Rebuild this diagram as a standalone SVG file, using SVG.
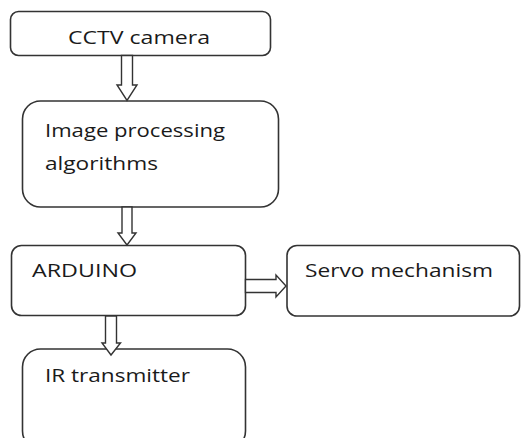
<svg xmlns="http://www.w3.org/2000/svg" width="521" height="438" viewBox="0 0 521 438">
<style>
.box{fill:#fff;stroke:#333;stroke-width:1.6}
.t{font-family:"Open Sans","Noto Sans",sans-serif;font-size:19px;fill:#1a1a1a}
.arr{fill:#fff;stroke:#333;stroke-width:1.4;stroke-linejoin:miter}
</style>
<rect width="521" height="438" fill="#fff"/>
<g id="cctv">
<rect class="box" x="10.5" y="11.5" width="260" height="44" rx="8"/>
<text class="t" x="68" y="44" textLength="142" lengthAdjust="spacingAndGlyphs">CCTV camera</text>
</g>
<g id="image">
<rect class="box" x="22.5" y="101" width="256" height="106" rx="18"/>
<text class="t" x="45" y="137" textLength="180" lengthAdjust="spacingAndGlyphs">Image processing</text>
<text class="t" x="45" y="170" textLength="113" lengthAdjust="spacingAndGlyphs">algorithms</text>
</g>
<g id="arduino">
<rect class="box" x="11.5" y="245.5" width="234" height="70" rx="10"/>
<text class="t" x="32" y="277" textLength="105" lengthAdjust="spacingAndGlyphs">ARDUINO</text>
</g>
<g id="servo">
<rect class="box" x="287" y="245.5" width="232.5" height="70.5" rx="10"/>
<text class="t" x="305" y="277" textLength="188" lengthAdjust="spacingAndGlyphs">Servo mechanism</text>
</g>
<g id="ir">
<rect class="box" x="22.5" y="349" width="223" height="100" rx="18"/>
<text class="t" x="45" y="382" textLength="145" lengthAdjust="spacingAndGlyphs">IR transmitter</text>
</g>
<g id="connectors">
<path class="arr" d="M121.5 55.5 V85 H117 L127 100.5 L137 85 H132.5 V55.5 Z"/>
<path class="arr" d="M122 207 V233 H118 L127 245 L136 233 H132 V207 Z"/>
<path class="arr" d="M245.5 279.5 H276 V275 L286 286 L276 297 V292.5 H245.5 Z"/>
<path class="arr" d="M105.5 316 V343 H102 L111 355 L120.5 343 H116.5 V316 Z"/>
</g>
</svg>
